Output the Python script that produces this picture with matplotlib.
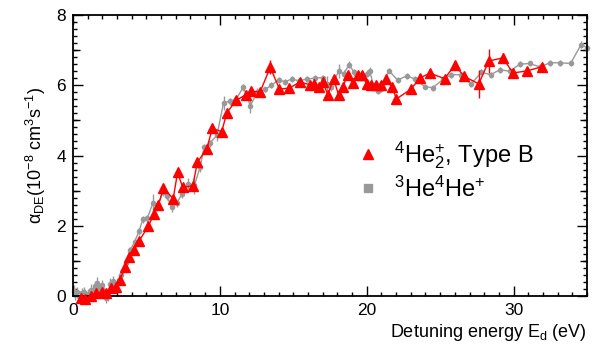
import matplotlib
matplotlib.use("Agg")
import matplotlib.pyplot as plt
from matplotlib.ticker import MultipleLocator
from matplotlib.lines import Line2D

plt.rcParams['font.family'] = ['Liberation Sans', 'DejaVu Sans']
plt.rcParams['mathtext.fontset'] = 'custom'
plt.rcParams['mathtext.rm'] = 'Liberation Sans'
plt.rcParams['mathtext.it'] = 'Liberation Sans:italic'
plt.rcParams['mathtext.default'] = 'regular'

# 4He2+ (Type B) rate coefficients
he4_x = [0.52, 0.82, 1.20, 1.57, 1.96, 2.23, 2.57, 2.91, 3.20, 3.54, 3.84, 4.16,
         4.52, 5.13, 5.52, 5.81, 6.16, 6.82, 7.12, 7.46, 8.15, 8.47, 9.11, 9.48,
         10.12, 10.48, 11.13, 11.79, 12.10, 12.73, 13.43, 14.06, 14.74, 15.43,
         16.11, 16.38, 16.72, 17.02, 17.35, 17.74, 18.08, 18.38, 18.70, 19.05,
         19.39, 19.70, 20.01, 20.31, 20.65, 21.00, 21.30, 21.72, 22.02, 23.01,
         23.65, 24.32, 25.30, 25.99, 26.65, 27.63, 28.31, 29.26, 29.96, 30.93, 31.94]
he4_y = [-0.07, -0.09, 0.00, 0.09, 0.11, 0.08, 0.22, 0.25, 0.46, 0.82, 1.10, 1.31,
         1.58, 1.99, 2.34, 2.58, 3.08, 2.77, 3.52, 3.10, 3.13, 3.81, 4.19, 4.77,
         4.68, 5.22, 5.58, 5.73, 5.84, 5.80, 6.51, 5.89, 5.92, 6.09,
         6.02, 6.03, 5.96, 6.09, 5.73, 6.19, 5.73, 5.96, 6.30, 6.07,
         6.28, 6.28, 6.03, 6.01, 6.02, 6.02, 6.18, 5.96, 5.61, 5.89,
         6.22, 6.34, 6.19, 6.57, 6.25, 6.04, 6.69, 6.78, 6.35, 6.41, 6.53]
he4_err = [0.05, 0.05, 0.05, 0.05, 0.05, 0.05, 0.05, 0.05, 0.05, 0.05, 0.05, 0.05,
           0.05, 0.06, 0.06, 0.06, 0.08, 0.08, 0.08, 0.08, 0.08, 0.08, 0.08, 0.08,
           0.08, 0.08, 0.08, 0.08, 0.08, 0.08, 0.20, 0.10, 0.08, 0.10,
           0.08, 0.08, 0.08, 0.08, 0.10, 0.08, 0.10, 0.08, 0.08, 0.08,
           0.08, 0.08, 0.08, 0.08, 0.08, 0.08, 0.08, 0.10, 0.10, 0.08,
           0.10, 0.08, 0.10, 0.10, 0.10, 0.40, 0.35, 0.15, 0.10, 0.10, 0.10]

# 3He4He+ rate coefficients
mix_x = [0.05, 0.15, 0.30, 0.45, 0.60, 0.75, 0.90, 1.05, 1.20, 1.35, 1.50, 1.65,
         1.80, 1.95, 2.10, 2.25, 2.40, 2.55, 2.70, 2.85, 3.00, 3.30, 3.60, 3.90,
         4.20, 4.50, 4.75, 5.06, 5.43, 5.80, 6.10, 6.38, 6.72, 7.07, 7.40, 7.86,
         8.27, 8.66, 8.93, 9.30, 9.80, 10.25, 10.70, 11.10, 11.60, 12.07, 12.56,
         13.09, 13.50, 14.00, 14.45, 14.90, 15.40, 15.90, 16.45, 17.00, 17.30,
         17.60, 18.08, 18.43, 18.80, 19.15, 19.50, 20.00, 20.20, 20.45, 20.74,
         21.00, 21.50, 22.10, 22.75, 23.30, 23.95, 24.50, 25.20, 25.75, 26.40,
         27.10, 27.80, 28.43, 29.06, 29.74, 30.42, 31.10, 31.79, 32.47, 33.15,
         33.88, 34.60, 35.00]
mix_y = [0.15, 0.05, 0.10, -0.02, 0.08, 0.12, -0.03, 0.05, 0.18, 0.10, 0.28, 0.38,
         0.22, 0.30, 0.12, -0.05, 0.02, 0.35, 0.42, 0.28, 0.36, 0.60, 0.95, 1.30,
         1.55, 1.85, 2.18, 2.21, 2.64, 2.60, 2.95, 2.84, 2.54, 2.64, 2.90, 3.20,
         3.15, 3.68, 4.24, 4.35, 4.57, 5.50, 5.55, 5.60, 5.95, 5.42, 5.81,
         5.88, 6.00, 6.15, 6.10, 6.18, 6.12, 6.18, 6.20, 6.22, 6.05,
         5.95, 6.40, 6.33, 6.58, 6.37, 6.25, 6.33, 6.42, 6.00, 5.85,
         5.90, 6.42, 6.15, 6.27, 6.17, 5.96, 5.93, 6.17, 6.30, 6.30,
         6.03, 6.37, 6.30, 6.44, 6.40, 6.60, 6.62, 6.52, 6.64, 6.64,
         6.62, 7.16, 7.07]
mix_err = [0.15, 0.15, 0.15, 0.15, 0.15, 0.15, 0.15, 0.15, 0.15, 0.15, 0.15, 0.15,
           0.15, 0.15, 0.15, 0.15, 0.15, 0.15, 0.15, 0.15, 0.15, 0.10, 0.10, 0.10,
           0.10, 0.10, 0.10, 0.10, 0.25, 0.10, 0.10, 0.10, 0.15, 0.10, 0.10, 0.15,
           0.25, 0.15, 0.10, 0.10, 0.15, 0.20, 0.10, 0.10, 0.10, 0.20, 0.10,
           0.08, 0.08, 0.08, 0.08, 0.08, 0.08, 0.08, 0.08, 0.08, 0.20,
           0.10, 0.20, 0.10, 0.10, 0.10, 0.10, 0.10, 0.10, 0.10, 0.10,
           0.08, 0.08, 0.08, 0.08, 0.08, 0.08, 0.08, 0.08, 0.08, 0.08,
           0.08, 0.08, 0.08, 0.08, 0.08, 0.08, 0.08, 0.08, 0.08, 0.08,
           0.08, 0.10, 0.10]

red = '#ff0000'
grey = '#999999'

fig = plt.figure(figsize=(5.95, 3.55), dpi=100)
ax = fig.add_axes([0.1227, 0.1662, 0.8639, 0.7915])

g = ax.errorbar(mix_x, mix_y, yerr=mix_err, color=grey, marker='o', ms=3,
                lw=1.0, elinewidth=1.0, capsize=0, zorder=2)
r = ax.errorbar(he4_x, he4_y, yerr=he4_err, color=red, marker='^', ms=6.5,
                lw=1.0, elinewidth=1.0, capsize=0, zorder=3)
for cont in (g, r):
    for art in cont.get_children():
        art.set_clip_on(False)

ax.set_xlim(0, 35)
ax.set_ylim(0, 8)
ax.xaxis.set_major_locator(MultipleLocator(10))
ax.xaxis.set_minor_locator(MultipleLocator(1))
ax.yaxis.set_major_locator(MultipleLocator(2))
ax.yaxis.set_minor_locator(MultipleLocator(0.2))
ax.tick_params(which='both', direction='in', top=True, right=True,
               labelsize=12.5, width=1.0)
ax.tick_params(which='major', length=7, pad=5)
ax.tick_params(which='minor', length=3)
for sp in ax.spines.values():
    sp.set_linewidth(1.3)

# intermediate ticks at the odd integers of the y axis
for side in ('left', 'right'):
    sec = ax.secondary_yaxis(side)
    sec.set_yticks([1, 3, 5, 7])
    sec.tick_params(direction='in', length=5, width=1.0,
                    labelleft=False, labelright=False)
    sec.spines[side].set_visible(False)

ax.set_xlabel('Detuning energy E$_d$ (eV)', fontsize=13, loc='right', labelpad=3)
ax.set_ylabel(r'$\alpha_{DE}$(10$^{-8}$ cm$^{3}$s$^{-1}$)', fontsize=13, labelpad=6)

h1 = Line2D([], [], color=red, marker='^', ls='none', ms=7.5)
h2 = Line2D([], [], color=grey, marker='s', ls='none', ms=5.5)
ax.legend([h1, h2], ['$^{4}$He$_{2}^{+}$, Type B', '$^{3}$He$^{4}$He$^{+}$'],
          loc='upper left', bbox_to_anchor=(0.505, 0.635), frameon=False,
          fontsize=17, handletextpad=0.5, labelspacing=0.25, handlelength=1.2)

fig.savefig('out.png', dpi=100)
